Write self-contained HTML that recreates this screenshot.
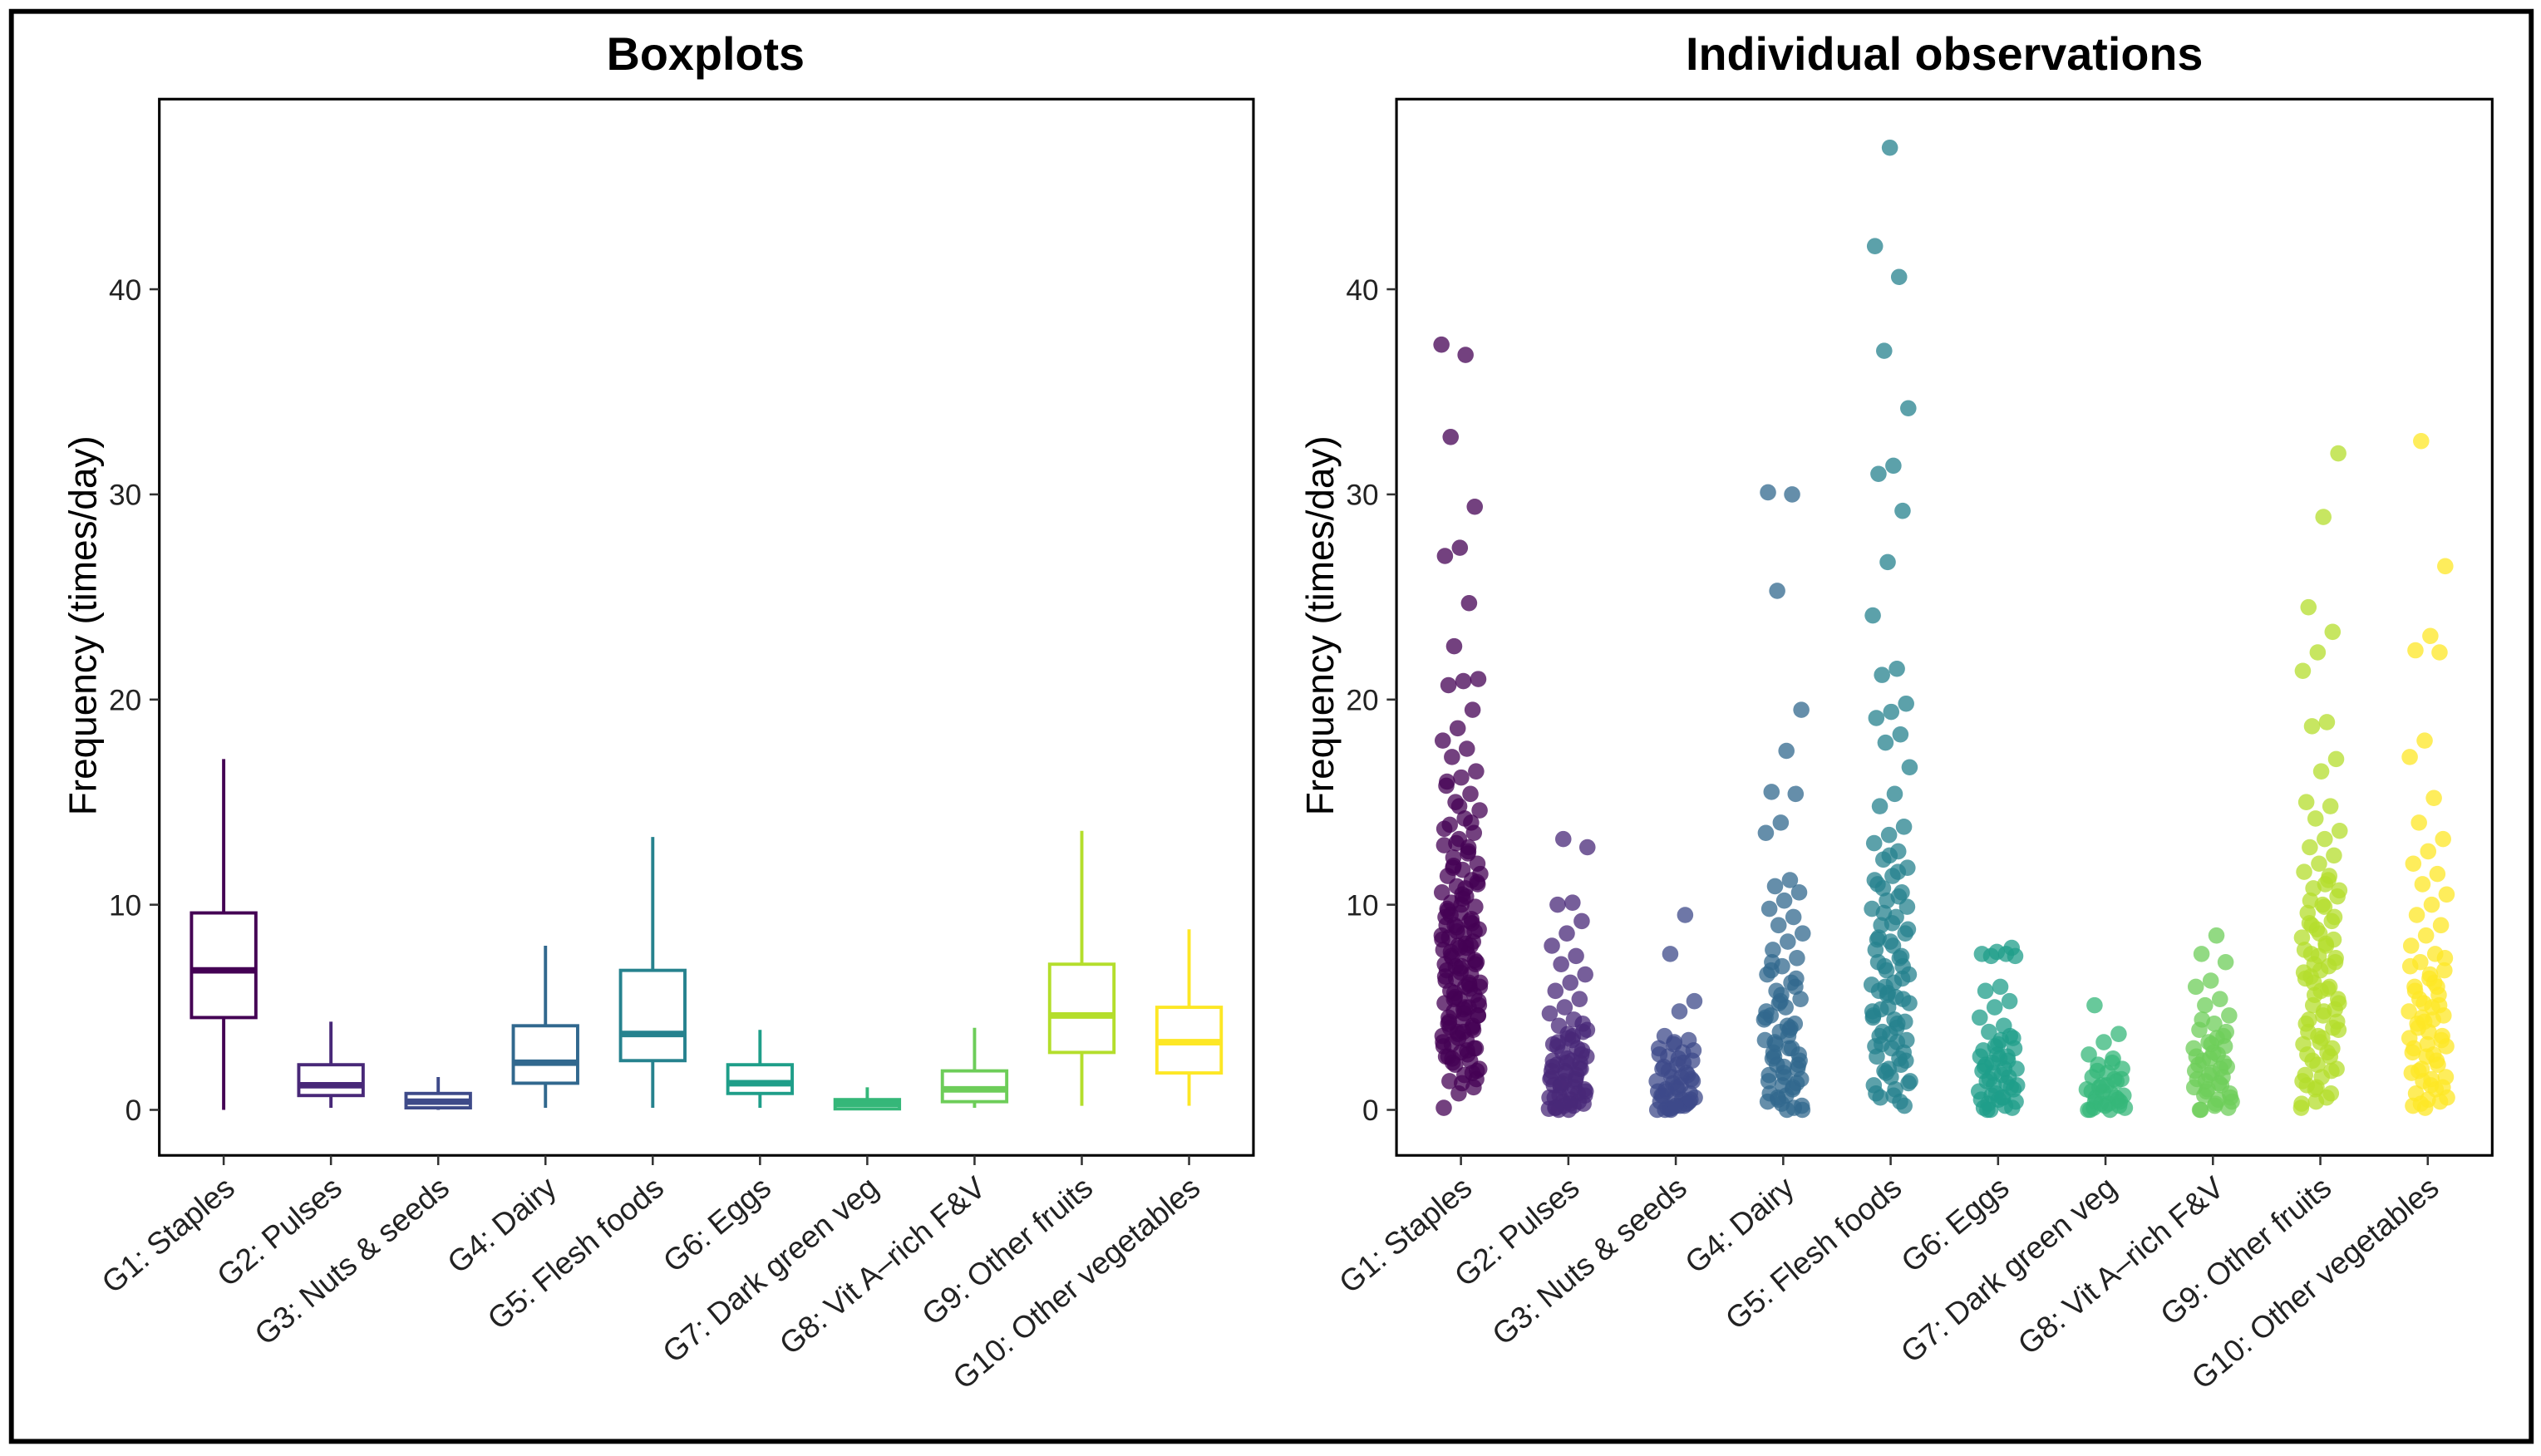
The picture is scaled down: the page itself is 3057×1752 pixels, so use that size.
<!DOCTYPE html>
<html><head><meta charset="utf-8"><style>
html,body{margin:0;padding:0;background:#fff;}
svg{display:block;font-family:"Liberation Sans",Arial,sans-serif;}
</style></head><body>
<svg id="fig" width="3057" height="1752" viewBox="0 0 1563 896" preserveAspectRatio="none">
<rect x="7" y="7" width="1550" height="880" fill="#fff" stroke="#000" stroke-width="3"/>
<text x="434" y="43" text-anchor="middle" font-size="28.5" font-weight="bold">Boxplots</text>
<text x="1196" y="43" text-anchor="middle" font-size="28.5" font-weight="bold">Individual observations</text>
<g id="left"></g>
<g id="right"></g>
</svg>
<script>
const categories=["G1: Staples","G2: Pulses","G3: Nuts & seeds","G4: Dairy","G5: Flesh foods","G6: Eggs","G7: Dark green veg","G8: Vit A\u2013rich F&V","G9: Other fruits","G10: Other vegetables"];
const colors=["#440154","#482878","#3E4A89","#31688E","#26828E","#1F9E89","#35B779","#6DCD59","#B4DE2C","#FDE725"];
const yTicks=[0,10,20,30,40];
const whiskLow=[0,0.1,0,0.1,0.1,0.1,0,0.1,0.2,0.2];
const q1=[4.5,0.7,0.1,1.3,2.4,0.8,0.05,0.4,2.8,1.8];
const medians=[6.8,1.2,0.4,2.3,3.7,1.3,0.3,1.0,4.6,3.3];
const q3=[9.6,2.2,0.8,4.1,6.8,2.2,0.5,1.9,7.1,5.0];
const whiskHigh=[17.1,4.3,1.6,8.0,13.3,3.9,1.1,4.0,13.6,8.8];
const obsG1=[37.3,36.8,32.8,29.4,27.4,27.0,24.7,22.6,21.0,20.9,20.7,19.5,18.6,18.0,17.6,17.2,16.5,16.2,15.8,15.4,15.0,14.6,14.2,13.9,13.5,13.2,12.9,12.6,12.3,12.0,11.7,11.4,11.2,10.9,10.6,10.4,10.1,9.9,9.6,9.4,9.2,9.0,8.8,8.6,8.4,8.2,8.0,7.8,7.6,7.4,7.2,7.0,6.8,6.6,6.4,6.2,6.0,5.8,5.6,5.4,5.2,5.0,4.8,4.6,4.4,4.2,4.0,3.8,3.6,3.4,3.2,3.0,2.8,2.6,2.4,2.2,2.0,1.7,1.4,1.1,0.8,0.1,12.5,11.8,11.1,10.5,9.8,9.3,8.9,8.5,8.1,7.7,7.3,6.9,6.5,6.1,5.7,5.3,4.9,4.5,4.1,3.7,3.3,2.9,2.5,1.5,10.0,9.0,8.0,7.0,6.0,5.0,4.0,3.0,14.8,13.7,12.8,11.9,11.0,10.3,9.7,9.1,8.7,8.3,7.9,7.5,7.1,6.7,6.3,5.9,5.5,5.1,4.7,4.3,3.9,3.5,3.1,2.7,2.3,1.9,1.3,16.0,14.0,13.0,11.5,10.8,9.5,8.7,7.9,7.1,6.2,5.4,4.6,3.8,2.6,1.8];
const obsG2=[13.2,12.8,10.1,10.0,9.2,8.6,8.0,7.5,7.1,6.6,6.2,5.8,5.4,5.0,4.7,4.4,4.1,3.8,3.5,3.2,3.0,2.8,2.6,2.4,2.2,2.0,1.8,1.6,1.4,1.2,1.0,0.8,0.6,0.4,0.2,0.05,3.6,3.3,2.9,2.5,2.1,1.7,1.3,0.9,0.5,0.1,2.3,1.9,1.5,1.1,0.7,0.3,0.0,1.2,0.8,0.4,3.9,3.4,3.1,2.7,2.3,1.9,1.5,1.1,0.7,0.3,0.1,2.0,1.4,0.6,0.2,0.0,4.2,3.7,2.4];
const obsG3=[9.5,7.6,5.3,4.8,3.6,3.4,3.2,3.0,2.8,2.6,2.4,2.2,2.0,1.8,1.6,1.4,1.2,1.0,0.8,0.6,0.4,0.2,0.05,2.9,2.5,2.1,1.7,1.3,0.9,0.5,0.1,1.5,1.1,0.7,0.3,0.0,0.6,0.2,0.0,0.4,3.3,2.7,2.3,1.9,1.4,1.0,0.7,0.3,0.1,0.0,1.6,0.9,0.5,0.2];
const obsG4=[30.1,30.0,25.3,19.5,17.5,15.5,15.4,14.0,13.5,11.2,10.9,10.6,10.2,9.8,9.4,9.0,8.6,8.2,7.8,7.4,7.0,6.6,6.2,5.8,5.4,5.0,4.6,4.2,3.8,3.4,3.0,2.6,2.2,1.8,1.4,1.0,0.6,0.2,0.0,7.2,6.4,5.6,4.8,4.0,3.2,2.4,1.6,0.8,0.1,5.2,4.4,3.6,2.8,2.0,1.2,0.4,3.0,2.2,1.5,0.7,6.8,6.0,5.3,4.5,3.9,3.3,2.7,2.1,1.7,1.1,0.5,0.0,4.1,2.5,1.3,0.3];
const obsG5=[46.9,42.1,40.6,37.0,34.2,31.4,31.0,29.2,26.7,24.1,21.5,21.2,19.8,19.4,19.1,18.3,17.9,16.7,15.4,14.8,13.8,13.4,13.0,12.6,12.2,11.8,11.4,11.0,10.6,10.2,9.8,9.4,9.0,8.6,8.2,7.8,7.4,7.0,6.6,6.2,5.8,5.4,5.0,4.6,4.2,3.8,3.4,3.0,2.6,2.2,1.8,1.4,1.0,0.6,0.2,12.4,11.2,10.4,9.6,8.8,8.0,7.2,6.4,5.6,4.8,4.0,3.2,2.4,1.6,0.8,0.4,6.0,5.2,4.4,3.6,2.8,2.0,1.2,11.6,10.8,9.9,9.1,8.3,7.5,6.8,6.1,5.5,4.9,4.3,3.7,3.1,2.5,1.9,1.3,0.7,8.4,7.0,5.7,4.5,3.3];
const obsG6=[7.9,7.7,7.6,7.6,7.5,7.5,6.0,5.8,5.3,5.0,4.5,4.1,3.8,3.5,3.2,2.9,2.6,2.3,2.0,1.7,1.4,1.1,0.8,0.5,0.2,0.0,3.0,2.5,2.1,1.6,1.2,0.9,0.6,0.3,0.1,2.7,1.9,1.3,0.7,0.4,3.4,2.2,3.6,3.1,2.6,2.0,1.5,1.0,0.5,0.1,2.4,1.8,1.2,0.6,0.0];
const obsG7=[5.1,3.7,3.3,2.7,2.5,2.2,2.0,1.8,1.6,1.4,1.2,1.0,0.8,0.6,0.4,0.2,0.0,1.5,1.1,0.7,0.3,0.1,0.5,0.9,0.0,2.3,1.9,1.5,1.2,0.9,0.6,0.3,0.1,0.0,0.4,0.2];
const obsG8=[8.5,7.6,7.2,6.3,6.0,5.4,5.1,4.6,4.2,3.9,3.6,3.3,3.0,2.7,2.4,2.1,1.8,1.5,1.2,0.9,0.6,0.3,0.0,3.1,2.5,1.9,1.3,0.7,0.1,2.8,2.2,1.6,1.0,0.4,3.5,4.4,3.8,3.2,2.6,2.0,1.4,0.8,0.2,0.0,2.3,1.7,1.1,0.5];
const obsG9=[32.0,28.9,24.5,23.3,22.3,21.4,18.9,18.7,17.1,16.5,15.0,14.8,14.2,13.6,13.2,12.8,12.4,12.0,11.6,11.2,10.8,10.4,10.0,9.6,9.2,8.8,8.4,8.0,7.6,7.2,6.8,6.4,6.0,5.6,5.2,4.8,4.4,4.0,3.6,3.2,2.8,2.4,2.0,1.6,1.2,0.8,0.4,0.1,11.0,10.2,9.4,8.6,7.8,7.0,6.2,5.4,4.6,3.8,3.0,2.2,1.4,0.6,9.0,7.4,5.8,4.2,2.6,1.0,10.7,9.9,9.1,8.3,7.5,6.7,5.9,5.1,4.3,3.5,2.7,1.9,1.1,0.3,8.1,6.5,4.9,3.3,1.7,11.4,7.1,3.9];
const obsG10=[32.6,26.5,23.1,22.4,22.3,18.0,17.2,15.2,14.0,13.2,12.6,12.0,11.5,11.0,10.5,10.0,9.5,9.0,8.5,8.0,7.6,7.2,6.8,6.4,6.0,5.6,5.2,4.8,4.4,4.0,3.6,3.2,2.8,2.4,2.0,1.6,1.2,0.8,0.4,0.1,7.0,6.2,5.4,4.6,3.8,3.0,2.2,1.4,0.6,5.0,4.2,3.4,2.6,1.8,1.0,0.3,7.4,6.6,5.8,5.1,4.3,3.5,2.7,1.9,1.1,0.5,0.2,6.0,4.5,3.1,1.5];
const observations=[obsG1,obsG2,obsG3,obsG4,obsG5,obsG6,obsG7,obsG8,obsG9,obsG10];

const NS="http://www.w3.org/2000/svg";
const PT=61,PB=711,Y0=683,YPER=(683-178)/40;
function yScale(v){return Y0-v*YPER;}
function mk(tag,attrs,parent){const e=document.createElementNS(NS,tag);for(const k in attrs)e.setAttribute(k,attrs[k]);parent.appendChild(e);return e;}

function drawPanel(g,PL,PR,kind){
  const step=(PR-PL)/(categories.length-1+1.2);
  const xScale=i=>PL+step*(0.6+i);
  const frame=mk('rect',{x:PL,y:PT,width:PR-PL,height:PB-PT,fill:'none',stroke:'#000','stroke-width':1.6},g);
  
  
  yTicks.forEach(t=>{
    const y=yScale(t);
    const tk=mk('line',{x1:PL-6,x2:PL,y1:y,y2:y,stroke:'#333','stroke-width':1.3},g);
    
    
    const tl=mk('text',{x:PL-11,y:y+6.5,'text-anchor':'end','font-size':18,fill:'#222'},g);
    tl.textContent=t;
    
    
  });
  const yt=mk('text',{x:0,y:0,'text-anchor':'middle','font-size':23.5,fill:'#000',transform:`translate(${PL-39},${385}) rotate(-90)`},g);
  yt.textContent='Frequency (times/day)';
  
  
  categories.forEach((c,i)=>{
    const x=xScale(i);
    const tk=mk('line',{x1:x,x2:x,y1:PB,y2:PB+6,stroke:'#333','stroke-width':1.3},g);
    
    
    const tl=mk('text',{x:0,y:0,'text-anchor':'end','font-size':19,fill:'#222',transform:`translate(${x+8},${PB+22}) rotate(-40)`},g);
    tl.textContent=c;
    
    
    const col=colors[i];
    if(kind==='box'){
      const bg=mk('g',{},g);
      
      
      const hw=step*0.3;
      mk('line',{x1:x,x2:x,y1:yScale(whiskHigh[i]),y2:yScale(q3[i]),stroke:col,'stroke-width':2},bg);
      mk('line',{x1:x,x2:x,y1:yScale(q1[i]),y2:yScale(whiskLow[i]),stroke:col,'stroke-width':2},bg);
      mk('rect',{x:x-hw,y:yScale(q3[i]),width:2*hw,height:Math.max(yScale(q1[i])-yScale(q3[i]),1),fill:'#fff',stroke:col,'stroke-width':2},bg);
      mk('line',{x1:x-hw,x2:x+hw,y1:yScale(medians[i]),y2:yScale(medians[i]),stroke:col,'stroke-width':4},bg);
    } else {
      const pg=mk('g',{fill:col,'fill-opacity':0.75},g);
      
      
      observations[i].forEach((v,j)=>{
        const off=(((j*0.6180339887)+i*0.37)%1-0.5)*24;
        const p=mk('circle',{cx:x+off,cy:yScale(v),r:5},pg);
        
        
      });
    }
  });
}
drawPanel(document.getElementById('left'),98,771,'box');
drawPanel(document.getElementById('right'),859,1533,'jitter');
</script>
</body></html>
